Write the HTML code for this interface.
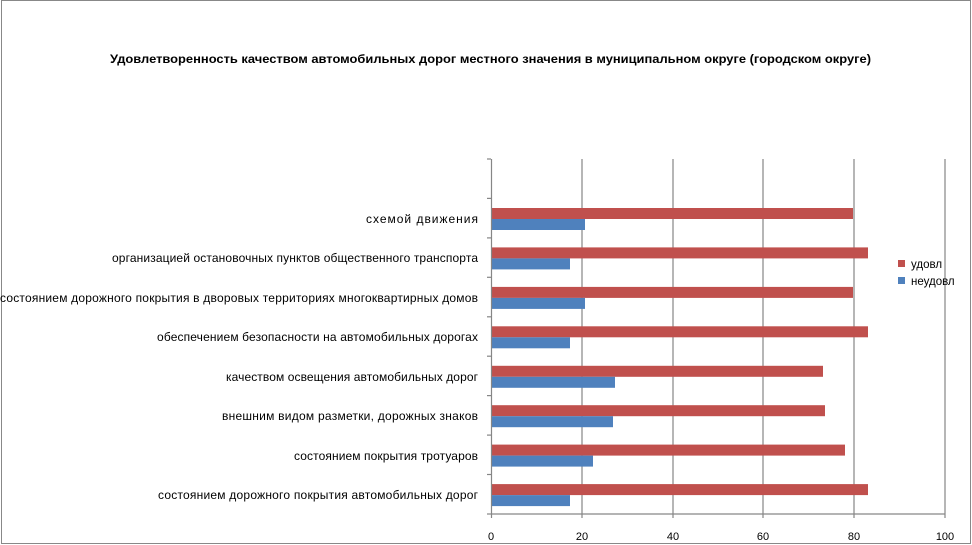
<!DOCTYPE html>
<html><head><meta charset="utf-8"><style>body{margin:0;background:#fff}svg{display:block}</style></head><body>
<svg width="972" height="545" xmlns="http://www.w3.org/2000/svg" font-family="Liberation Sans, DejaVu Sans, sans-serif">
<rect x="1.5" y="0.5" width="969" height="543" fill="#fff" stroke="#888" stroke-width="1"/>
<text x="110" y="63" font-size="12" font-weight="bold" textLength="761" lengthAdjust="spacingAndGlyphs">Удовлетворенность качеством автомобильных дорог местного значения в муниципальном округе (городском округе)</text>
<g stroke="#868686" stroke-width="1.2">
<line x1="582" y1="159" x2="582" y2="514"/>
<line x1="673" y1="159" x2="673" y2="514"/>
<line x1="763" y1="159" x2="763" y2="514"/>
<line x1="854" y1="159" x2="854" y2="514"/>
<line x1="945" y1="159" x2="945" y2="514"/>
</g>
<g fill="#c0504d">
<rect x="492" y="208" width="361" height="11"/>
<rect x="492" y="247.4" width="376" height="11"/>
<rect x="492" y="286.9" width="361" height="11"/>
<rect x="492" y="326.3" width="376" height="11"/>
<rect x="492" y="365.8" width="331" height="11"/>
<rect x="492" y="405.2" width="333" height="11"/>
<rect x="492" y="444.6" width="353" height="11"/>
<rect x="492" y="484.1" width="376" height="11"/>
</g>
<g fill="#4f81bd">
<rect x="492" y="219" width="93" height="11"/>
<rect x="492" y="258.4" width="78" height="11"/>
<rect x="492" y="297.9" width="93" height="11"/>
<rect x="492" y="337.3" width="78" height="11"/>
<rect x="492" y="376.8" width="123" height="11"/>
<rect x="492" y="416.2" width="121" height="11"/>
<rect x="492" y="455.6" width="101" height="11"/>
<rect x="492" y="495.1" width="78" height="11"/>
</g>
<g stroke="#868686" stroke-width="1.2">
<line x1="491.5" y1="159" x2="491.5" y2="514"/>
<line x1="491" y1="514" x2="945" y2="514"/>
<line x1="487" y1="159" x2="491" y2="159"/>
<line x1="487" y1="198.4" x2="491" y2="198.4"/>
<line x1="487" y1="237.9" x2="491" y2="237.9"/>
<line x1="487" y1="277.3" x2="491" y2="277.3"/>
<line x1="487" y1="316.8" x2="491" y2="316.8"/>
<line x1="487" y1="356.2" x2="491" y2="356.2"/>
<line x1="487" y1="395.6" x2="491" y2="395.6"/>
<line x1="487" y1="435.1" x2="491" y2="435.1"/>
<line x1="487" y1="474.5" x2="491" y2="474.5"/>
<line x1="487" y1="514" x2="491" y2="514"/>
<line x1="491.5" y1="514" x2="491.5" y2="518"/>
<line x1="582" y1="514" x2="582" y2="518"/>
<line x1="673" y1="514" x2="673" y2="518"/>
<line x1="763" y1="514" x2="763" y2="518"/>
<line x1="854" y1="514" x2="854" y2="518"/>
<line x1="945" y1="514" x2="945" y2="518"/>
</g>
<g font-size="11" fill="#000" text-anchor="middle">
<text x="491" y="540">0</text>
<text x="582" y="540">20</text>
<text x="673" y="540">40</text>
<text x="763" y="540">60</text>
<text x="854" y="540">80</text>
<text x="945" y="540">100</text>
</g>
<g font-size="12" fill="#000" lengthAdjust="spacingAndGlyphs">
<text x="366" y="223" textLength="112">схемой движения</text>
<text x="112" y="262" textLength="366">организацией остановочных пунктов общественного транспорта</text>
<text x="0" y="302" textLength="478">состоянием дорожного покрытия в дворовых территориях многоквартирных домов</text>
<text x="157" y="341" textLength="321">обеспечением безопасности на автомобильных дорогах</text>
<text x="226" y="381" textLength="252">качеством освещения автомобильных дорог</text>
<text x="222" y="420" textLength="256">внешним видом разметки, дорожных знаков</text>
<text x="294" y="460" textLength="184">состоянием покрытия тротуаров</text>
<text x="158" y="499" textLength="320">состоянием дорожного покрытия автомобильных дорог</text>
</g>
<rect x="898" y="260" width="7" height="7" fill="#c0504d"/>
<rect x="898" y="277" width="7" height="7" fill="#4f81bd"/>
<text x="911" y="268" font-size="11.5">удовл</text>
<text x="911" y="285" font-size="11.5">неудовл</text>
</svg>
</body></html>
